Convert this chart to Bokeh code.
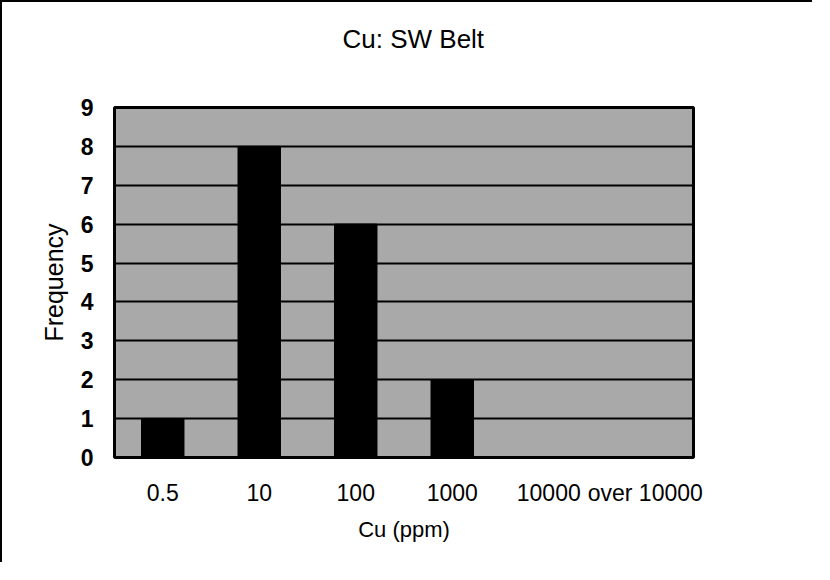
from bokeh.plotting import figure
from bokeh.models import ColumnDataSource, Range1d, FixedTicker, Title
from bokeh.embed import file_html
from bokeh.resources import INLINE

categories = ["0.5", "10", "100", "1000", "10000", "over 10000"]
frequency = [1, 8, 6, 2, 0, 0]
y_ticks = [0, 1, 2, 3, 4, 5, 6, 7, 8, 9]
title_text = "Cu: SW Belt"
x_title = "Cu (ppm)"
y_title = "Frequency"

FONT = "Liberation Sans"

src = ColumnDataSource(dict(cat=categories, freq=frequency))

p = figure(width=812, height=562, x_range=categories, y_range=Range1d(0, 9),
           title=None, output_backend="svg", toolbar_location=None,
           min_border_left=112, min_border_right=121,
           min_border_top=105, min_border_bottom=107)

p.vbar(x="cat", top="freq", width=0.44, source=src, fill_color="black", line_color="black")

p.background_fill_color = "#a9a9a9"
p.border_fill_color = "white"
p.outline_line_color = "black"
p.outline_line_width = 3

p.xgrid.grid_line_color = None
p.ygrid.grid_line_color = "black"
p.ygrid.grid_line_width = 2
p.ygrid.ticker = FixedTicker(ticks=y_ticks)

p.yaxis.ticker = FixedTicker(ticks=y_ticks)
p.yaxis.axis_line_color = None
p.yaxis.major_tick_line_color = None
p.yaxis.minor_tick_line_color = None
p.yaxis.major_tick_out = 0
p.yaxis.major_tick_in = 0
p.yaxis.major_label_text_font = FONT
p.yaxis.major_label_text_font_size = "23px"
p.yaxis.major_label_text_font_style = "bold"
p.yaxis.major_label_text_color = "black"
p.yaxis.major_label_standoff = 21
p.yaxis.axis_label = y_title
p.yaxis.axis_label_text_font = FONT
p.yaxis.axis_label_text_font_size = "25px"
p.yaxis.axis_label_text_font_style = "normal"
p.yaxis.axis_label_text_color = "black"
p.yaxis.axis_label_standoff = 10

p.xaxis.axis_line_color = None
p.xaxis.major_tick_line_color = None
p.xaxis.minor_tick_line_color = None
p.xaxis.major_tick_out = 0
p.xaxis.major_tick_in = 0
p.xaxis.major_label_text_font = FONT
p.xaxis.major_label_text_font_size = "23px"
p.xaxis.major_label_text_color = "black"
p.xaxis.major_label_standoff = 22
p.xaxis.axis_label = x_title
p.xaxis.axis_label_text_font = FONT
p.xaxis.axis_label_text_font_size = "22px"
p.xaxis.axis_label_text_font_style = "normal"
p.xaxis.axis_label_text_color = "black"
p.xaxis.axis_label_standoff = 8

# spacer between frame and title, then the title itself
p.add_layout(Title(text=" ", text_font=FONT, text_font_size="33px"), "above")
p.add_layout(Title(text=title_text, align="left", offset=228, text_font=FONT,
                   text_font_size="26px", text_font_style="normal",
                   text_color="black"), "above")

p.styles = {"border-top": "2px solid black", "border-left": "2px solid black"}

open("out.html", "w").write(file_html(p, INLINE))
